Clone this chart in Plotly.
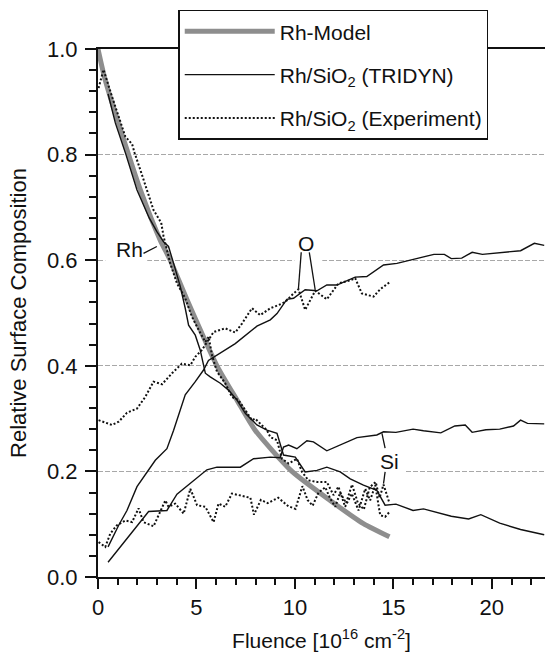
import plotly.graph_objects as go

# ---------------- data ----------------
model_x = [0, 0.34, 1.55, 2.15, 3.16, 3.67, 4.52, 6.04, 7.06, 7.98, 9.85, 11.79, 13.48, 14.8]
model_y = [1.0, 0.945, 0.8, 0.733, 0.638, 0.6, 0.525, 0.4, 0.335, 0.278, 0.2, 0.145, 0.101, 0.076]

rh_tri_x = [0.51, 0.88, 1.42, 1.98, 2.6, 2.99, 3.33, 3.58, 3.84, 4.18, 4.43, 4.6, 4.94, 5.19, 5.45, 5.7,
            6.21, 6.63, 7.06, 7.48, 8.07, 8.58, 9.09, 9.42, 10.02, 10.52, 11.12, 11.62, 12.3, 12.81,
            13.48, 14.16, 14.58, 15.13, 16.0, 16.53, 17.94, 18.82, 19.44, 20.4, 21.46, 22.66]
rh_tri_y = [0.915, 0.86, 0.8, 0.733, 0.68, 0.654, 0.635, 0.626, 0.594, 0.55, 0.509, 0.477, 0.458, 0.43,
            0.386, 0.379, 0.367, 0.354, 0.335, 0.31, 0.288, 0.278, 0.272, 0.231, 0.227, 0.199, 0.202,
            0.208, 0.199, 0.186, 0.174, 0.164, 0.136, 0.138, 0.126, 0.129, 0.115, 0.110, 0.118, 0.102,
            0.090, 0.080]

si_tri_x = [0.51, 2.57, 3.5, 4.01, 5.53, 6.04, 6.97, 7.23, 7.9, 8.75, 9.25, 9.42, 9.68, 10.1, 10.61,
            10.94, 11.62, 12.3, 13.15, 14.16, 14.5, 15.13, 16.0, 16.53, 17.41, 18.12, 18.65, 19.0,
            19.7, 20.4, 21.1, 21.46, 21.81, 22.66]
si_tri_y = [0.028, 0.124, 0.126, 0.157, 0.203, 0.208, 0.208, 0.208, 0.224, 0.227, 0.226, 0.246, 0.25,
            0.243, 0.258, 0.256, 0.239, 0.25, 0.264, 0.269, 0.275, 0.274, 0.28, 0.277, 0.273, 0.286,
            0.288, 0.274, 0.279, 0.28, 0.286, 0.297, 0.291, 0.29]

o_tri_x = [0.51, 1.05, 1.47, 1.98, 2.91, 3.5, 3.84, 4.43, 4.94, 5.36, 5.61, 5.95, 6.97, 8.07, 8.75,
           9.09, 9.59, 9.93, 10.52, 11.12, 11.62, 12.13, 12.47, 13.06, 13.65, 14.5, 15.18, 15.83,
           17.06, 17.59, 17.94, 18.47, 19.0, 19.52, 21.46, 22.16, 22.66]
o_tri_y = [0.057, 0.098, 0.126, 0.171, 0.221, 0.243, 0.278, 0.345, 0.37, 0.392, 0.41, 0.418, 0.442,
           0.475, 0.487, 0.499, 0.526, 0.528, 0.544, 0.542, 0.553, 0.553, 0.558, 0.568, 0.569, 0.591,
           0.594, 0.6, 0.611, 0.611, 0.603, 0.604, 0.615, 0.611, 0.618, 0.632, 0.628]

rh_exp_x = [0.03, 0.17, 0.28, 0.71, 1.05, 1.39, 1.73, 1.86, 2.15, 2.49, 2.82, 3.21, 3.33, 3.67, 4.01,
            4.43, 4.77, 5.11, 5.45, 5.62, 5.79, 6.04, 6.46, 6.8, 7.14, 7.48, 7.82, 7.98, 8.58, 8.75,
            9.09, 9.34, 9.68, 10.1, 10.36, 10.69, 11.12, 11.62, 11.96, 12.21, 12.55, 12.89, 13.23,
            13.57, 13.82, 14.08, 14.33, 14.58, 14.8]
rh_exp_y = [0.926, 0.943, 0.961, 0.91, 0.872, 0.834, 0.82, 0.803, 0.771, 0.733, 0.695, 0.671, 0.645,
            0.594, 0.556, 0.528, 0.493, 0.468, 0.445, 0.455, 0.42, 0.389, 0.367, 0.341, 0.335, 0.316,
            0.297, 0.3, 0.278, 0.265, 0.259, 0.224, 0.215, 0.224, 0.199, 0.183, 0.18, 0.18, 0.155,
            0.171, 0.133, 0.158, 0.126, 0.167, 0.145, 0.174, 0.117, 0.114, 0.123]

o_exp_x = [0.03, 0.71, 1.05, 1.47, 1.98, 2.4, 2.82, 3.25, 3.76, 4.26, 4.69, 4.94, 5.28, 5.7, 5.87,
           6.46, 6.97, 7.31, 7.82, 8.24, 8.75, 9.17, 9.51, 9.93, 10.18, 10.52, 11.03, 11.62, 12.21,
           12.81, 13.06, 13.4, 13.99, 14.33, 14.84]
o_exp_y = [0.297, 0.288, 0.294, 0.311, 0.319, 0.341, 0.37, 0.365, 0.386, 0.404, 0.401, 0.417, 0.43,
           0.455, 0.464, 0.471, 0.463, 0.48, 0.509, 0.496, 0.509, 0.515, 0.521, 0.537, 0.545, 0.506,
           0.542, 0.526, 0.556, 0.562, 0.566, 0.537, 0.531, 0.545, 0.559]

si_exp_x = [0.03, 0.37, 0.62, 0.96, 1.39, 1.73, 2.06, 2.31, 2.82, 3.42, 3.58, 3.92, 4.35, 4.69, 5.03,
            5.45, 5.87, 6.12, 6.46, 6.8, 7.39, 7.74, 7.92, 8.27, 8.62, 9.15, 9.67, 10.03, 10.38, 10.64,
            10.9, 11.2, 11.54, 11.8, 12.05, 12.3, 12.6, 12.9, 13.2, 13.5, 13.8, 14.1, 14.3, 14.5, 14.8]
si_exp_y = [0.066, 0.057, 0.082, 0.098, 0.107, 0.104, 0.13, 0.104, 0.096, 0.145, 0.133, 0.139, 0.12,
            0.167, 0.136, 0.133, 0.104, 0.139, 0.133, 0.158, 0.153, 0.15, 0.118, 0.146, 0.14, 0.15,
            0.134, 0.129, 0.172, 0.146, 0.135, 0.16, 0.17, 0.148, 0.133, 0.16, 0.14, 0.175, 0.14,
            0.128, 0.17, 0.18, 0.15, 0.175, 0.14]

legend_names = ["Rh-Model", "Rh/SiO<sub>2</sub> (TRIDYN)", "Rh/SiO<sub>2</sub> (Experiment)"]
x_ticks = [0, 5, 10, 15, 20]
y_ticks = [0.0, 0.2, 0.4, 0.6, 0.8, 1.0]

# labels: (text, x, y) and leader lines (x0, y0, x1, y1)
labels = [("Rh", 1.59, 0.621), ("O", 10.56, 0.632), ("Si", 14.79, 0.218)]
leaders = [(2.31, 0.613, 2.99, 0.626),
           (10.32, 0.615, 10.18, 0.547), (10.73, 0.615, 11.03, 0.544),
           (14.58, 0.244, 14.42, 0.272), (14.58, 0.199, 14.5, 0.177)]
grid_gaps = [(0.37, 2.5, 0.6), (9.97, 11.39, 0.6), (13.67, 15.55, 0.2)]

FONT = "Liberation Sans, Arial, sans-serif"
BLACK = "#111111"

fig = go.Figure()

solid = dict(color=BLACK, width=1.4)
dotted = dict(color=BLACK, width=2, dash="2px,2px")

fig.add_trace(go.Scatter(x=model_x, y=model_y, mode="lines", name=legend_names[0],
                         line=dict(color="#8e8e8e", width=5, shape="spline", smoothing=0.6),
                         legendgroup="m"))
for i, (xs, ys) in enumerate([(rh_tri_x, rh_tri_y), (o_tri_x, o_tri_y), (si_tri_x, si_tri_y)]):
    fig.add_trace(go.Scatter(x=xs, y=ys, mode="lines", name=legend_names[1], line=solid,
                             legendgroup="t", showlegend=(i == 0)))
for i, (xs, ys) in enumerate([(rh_exp_x, rh_exp_y), (o_exp_x, o_exp_y), (si_exp_x, si_exp_y)]):
    fig.add_trace(go.Scatter(x=xs, y=ys, mode="lines", name=legend_names[2], line=dotted,
                             legendgroup="e", showlegend=(i == 0)))

shapes = []
for x0, x1, yy in grid_gaps:
    shapes.append(dict(type="rect", xref="x", yref="y", x0=x0, x1=x1, y0=yy - 0.007, y1=yy + 0.007,
                       fillcolor="white", line=dict(width=0), layer="between"))
for x0, y0, x1, y1 in leaders:
    shapes.append(dict(type="line", xref="x", yref="y", x0=x0, y0=y0, x1=x1, y1=y1,
                       line=dict(color=BLACK, width=1.3), layer="above"))

annotations = [dict(text=t, x=x, y=y, xref="x", yref="y", showarrow=False,
                    font=dict(family=FONT, size=21, color=BLACK)) for t, x, y in labels]

fig.update_layout(
    width=545, height=652,
    margin=dict(l=98, r=0, t=49, b=75),
    paper_bgcolor="white", plot_bgcolor="white",
    font=dict(family=FONT, size=20, color=BLACK),
    shapes=shapes, annotations=annotations,
    legend=dict(x=0.1795, y=1.0745, xanchor="left", yanchor="top",
                bgcolor="white", bordercolor=BLACK, borderwidth=1.5,
                font=dict(family=FONT, size=21, color=BLACK),
                itemwidth=90, tracegroupgap=13, traceorder="grouped"),
    xaxis=dict(range=[0, 22.7], tickvals=x_ticks, ticks="outside", ticklen=10, tickwidth=1.5,
               tickcolor=BLACK, showline=True, linewidth=2, linecolor=BLACK, mirror=True,
               showgrid=False, zeroline=False,
               minor=dict(dtick=1, ticks="outside", ticklen=6, tickwidth=1.5, tickcolor=BLACK),
               tickfont=dict(family=FONT, size=22),
               title=dict(text="Fluence [10<sup>16</sup> cm<sup>-2</sup>]",
                          font=dict(family=FONT, size=21), standoff=14)),
    yaxis=dict(range=[0, 1.0], tickvals=y_ticks, tickformat=".1f", ticks="outside", ticklen=11,
               tickwidth=1.5, tickcolor=BLACK, showline=True, linewidth=2, linecolor=BLACK,
               showgrid=True, gridcolor="#a8a8a8", gridwidth=1, griddash="5px,2px", zeroline=False,
               minor=dict(dtick=0.04, ticks="outside", ticklen=7, tickwidth=1.5, tickcolor=BLACK,
                          showgrid=False),
               tickfont=dict(family=FONT, size=22), ticklabelstandoff=3,
               title=dict(text="Relative Surface Composition",
                          font=dict(family=FONT, size=22), standoff=14)),
)

fig.write_html("out.html")
